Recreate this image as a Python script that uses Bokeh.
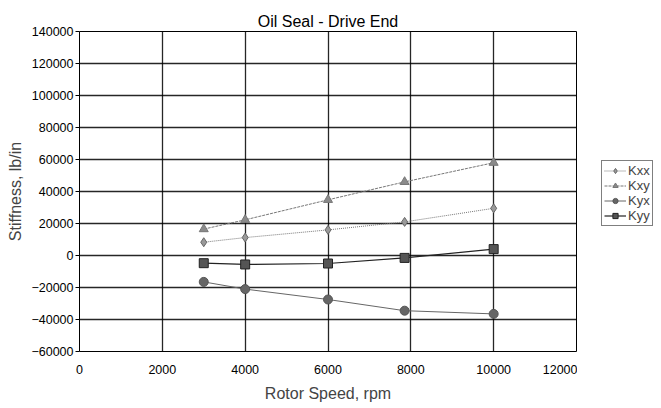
from bokeh.plotting import figure
from bokeh.layouts import row
from bokeh.models import Range1d, FixedTicker, Legend, LegendItem, Title, BasicTickFormatter
from bokeh.embed import file_html
from bokeh.resources import INLINE

# Rotor speed (rpm) and stiffness coefficients (lb/in)
speed = [3000, 4000, 6000, 7850, 10000]
kxx = [8300, 11200, 16000, 21000, 29500]
kxy = [16500, 22300, 34800, 46000, 58000]
kyx = [-16500, -21000, -27500, -34500, -36500]
kyy = [-4800, -5600, -5000, -1500, 4000]
series_names = ["Kxx", "Kxy", "Kyx", "Kyy"]

x_ticks = [0, 2000, 4000, 6000, 8000, 10000, 12000]
y_ticks = [-60000, -40000, -20000, 0, 20000, 40000, 60000, 80000, 100000, 120000, 140000]

FONT = "Liberation Sans"

# Per-series line and marker styles
styles = [
    dict(line=dict(line_color="#777777", line_width=1, line_dash="1 1"),
         mark=dict(marker="diamond", size=9, fill_color="#999999", line_color="#666666")),
    dict(line=dict(line_color="#777777", line_width=1, line_dash="3 1"),
         mark=dict(marker="triangle", size=9, fill_color="#8a8a8a", line_color="#777777")),
    dict(line=dict(line_color="#666666", line_width=1),
         mark=dict(marker="circle", size=9, fill_color="#666666", line_color="#555555")),
    dict(line=dict(line_color="#222222", line_width=1.2),
         mark=dict(marker="square", size=9, fill_color="#555555", line_color="#222222")),
]

p = figure(width=577, height=408, output_backend="svg", toolbar_location=None,
           x_range=Range1d(0, 12000), y_range=Range1d(-60000, 140000),
           min_border_left=79, min_border_right=1, min_border_top=31, min_border_bottom=57)
p.background_fill_color = "white"
p.border_fill_color = "white"
p.outline_line_color = "black"
p.outline_line_width = 1

p.title = Title(text="Oil Seal - Drive End", align="center", vertical_align="top",
                text_font=FONT, text_font_size="16px", text_font_style="normal",
                text_color="black", text_line_height=1.7, standoff=0)

for g in (p.xgrid, p.ygrid):
    g.grid_line_color = "black"
    g.grid_line_width = 1.3
    g.grid_line_alpha = 0.85

p.xaxis.ticker = FixedTicker(ticks=x_ticks)
p.yaxis.ticker = FixedTicker(ticks=y_ticks)
p.xaxis.formatter = BasicTickFormatter(use_scientific=False)
p.yaxis.formatter = BasicTickFormatter(use_scientific=False)
p.xaxis.axis_label = "Rotor Speed, rpm"
p.yaxis.axis_label = "Stiffness, lb/in"
for ax in (p.xaxis, p.yaxis):
    ax.axis_label_text_font = FONT
    ax.axis_label_text_font_size = "16px"
    ax.axis_label_text_font_style = "normal"
    ax.major_label_text_font = FONT
    ax.major_label_text_font_size = "12.5px"
    ax.major_label_text_color = "black"
    ax.axis_line_color = None
    ax.minor_tick_line_color = None
p.xaxis.major_tick_line_color = None
p.xaxis.major_label_standoff = 7
p.xaxis.axis_label_standoff = 8
p.yaxis.major_tick_line_color = "black"
p.yaxis.major_tick_out = 4
p.yaxis.major_tick_in = 0
p.yaxis.major_label_standoff = 2
p.yaxis.axis_label_standoff = 4

for ys, st in zip([kxx, kxy, kyx, kyy], styles):
    p.line(speed, ys, **st["line"])
    p.scatter(speed, ys, **st["mark"])

# Legend panel to the right of the chart; its frame lines up with the chart's frame
lp = figure(width=84, height=408, output_backend="svg", toolbar_location=None,
            x_range=Range1d(0, 1), y_range=Range1d(0, 1),
            min_border_left=0, min_border_right=0, min_border_top=0, min_border_bottom=0)
lp.axis.visible = False
lp.grid.visible = False
lp.outline_line_color = None
lp.border_fill_color = "white"

nan = float("nan")
items = []
for name, st in zip(series_names, styles):
    rl = lp.line([nan], [nan], **st["line"])
    rm = lp.scatter([nan], [nan], **st["mark"])
    items.append(LegendItem(label=name, renderers=[rl, rm]))

legend = Legend(items=items, location=(24, 125))
legend.label_text_font = FONT
legend.label_text_font_size = "13px"
legend.glyph_width = 22
legend.glyph_height = 13
legend.label_height = 13
legend.label_width = 22
legend.spacing = 0
legend.padding = 2
legend.margin = 0
legend.label_standoff = 2
legend.border_line_color = "black"
legend.border_line_width = 1
legend.background_fill_alpha = 1
lp.add_layout(legend, "center")

layout = row(p, lp)
open("out.html", "w").write(file_html(layout, INLINE))
